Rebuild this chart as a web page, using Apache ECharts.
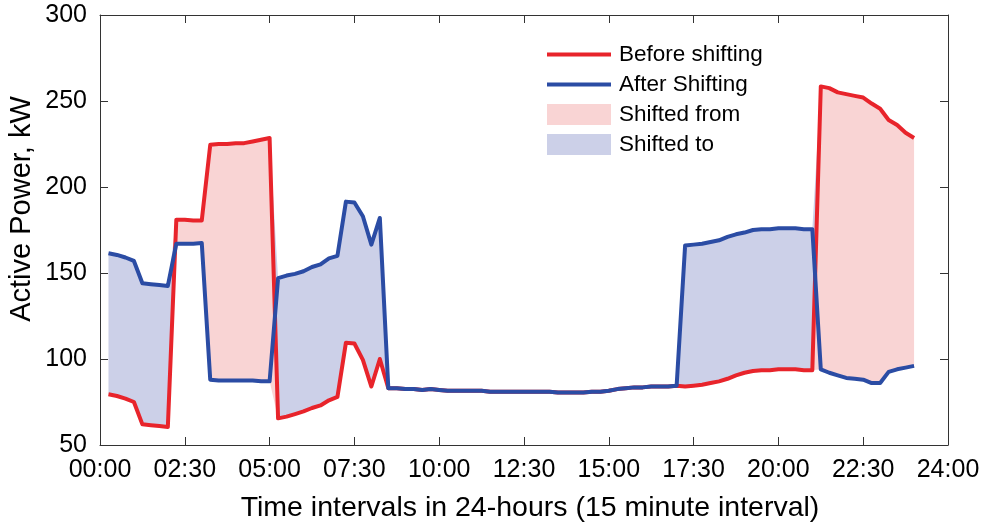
<!DOCTYPE html>
<html>
<head>
<meta charset="utf-8">
<script src="https://cdn.jsdelivr.net/npm/echarts@6/dist/echarts.min.js"></script>
<style>html,body{margin:0;padding:0;background:#fff;}#c{width:984px;height:527px;}</style>
</head>
<body>
<div id="c"></div>
<script>
// x tick labels (axis runs over 15-minute steps 0..100, one label every 10 steps)
var tickLabels = ['00:00','02:30','05:00','07:30','10:00','12:30','15:00','17:30','20:00','22:30','24:00'];
// Active power before load shifting (kW), intervals 1..96
var beforeShift = [
  79.5, 78.5, 77, 75, 62, 61.5, 61, 60.5, 181, 181,
  180.5, 180.5, 224.5, 225, 225, 225.5, 225.5, 226.5, 227.5, 228.5,
  65.5, 66.5, 68, 69.5, 71.5, 73, 76, 78, 109.5, 109,
  99.5, 84, 100, 83, 83, 82.5, 82.5, 82, 82.5, 82,
  81.5, 81.5, 81.5, 81.5, 81.5, 81, 81, 81, 81, 81,
  81, 81, 81, 80.5, 80.5, 80.5, 80.5, 81, 81, 81.5,
  82.5, 83, 83.5, 83.5, 84, 84, 84, 84.5, 84, 84.5,
  85, 86, 87, 88.5, 90.5, 92, 93, 93.5, 93.5, 94,
  94, 94, 93.5, 93.5, 258.5, 257.5, 255, 254, 253, 252,
  248.5, 245.5, 239, 236, 231.5, 228.5
];
// Active power after load shifting (kW), intervals 1..96
var afterShift = [
  161.5, 160.5, 159, 157, 144, 143.5, 143, 142.5, 167, 167,
  167, 167.5, 88, 87.5, 87.5, 87.5, 87.5, 87.5, 87, 87,
  147, 148.5, 149.5, 151, 153.5, 155, 158.5, 160, 191.5, 191,
  183, 166.5, 182, 83, 83, 82.5, 82.5, 82, 82.5, 82,
  81.5, 81.5, 81.5, 81.5, 81.5, 81, 81, 81, 81, 81,
  81, 81, 81, 80.5, 80.5, 80.5, 80.5, 81, 81, 81.5,
  82.5, 83, 83.5, 83.5, 84, 84, 84, 84.5, 166, 166.5,
  167, 168, 169, 171, 172.5, 173.5, 175, 175.5, 175.5, 176,
  176, 176, 175.5, 175.5, 94, 92, 90.5, 89, 88.5, 88,
  86, 86, 92.5, 94, 95, 96
];

var RED = '#E8242B', BLUE = '#2B4CA4', PINK = '#F9D4D4', LAV = '#CCD0E8';
var FONT = '"Liberation Sans", Arial, Helvetica, sans-serif';

// category axis: steps 0..100; data occupy steps 1..96
var steps = [];
for (var k = 0; k <= 100; k++) steps.push(String(k));
function pad(arr){
  var out = ['-'];
  arr.forEach(function(v){ out.push(v); });
  while (out.length < steps.length) out.push('-');
  return out;
}
var baseVals = beforeShift.map(function(v,i){ return Math.min(v, afterShift[i]); });
var fromVals = beforeShift.map(function(v,i){ return Math.max(v - afterShift[i], 0); });
var toVals = beforeShift.map(function(v,i){ return Math.max(afterShift[i] - v, 0); });

var axisLineStyle = {color:'#333', width:1};
var every10 = function(idx){ return idx % 10 === 0; };
var chart = echarts.init(document.getElementById('c'));
chart.setOption({
  animation:false,
  backgroundColor:'#fff',
  grid:{left:100, right:36, top:15, bottom:82, containLabel:false},
  xAxis:[{
    type:'category', data:steps, boundaryGap:false,
    axisLine:{show:true, lineStyle:axisLineStyle},
    axisTick:{show:true, inside:true, length:8, interval:every10, lineStyle:axisLineStyle},
    axisLabel:{show:true, margin:13, fontSize:25, color:'#000', fontFamily:FONT, interval:every10,
      formatter:function(v){ return tickLabels[Math.round(Number(v)/10)]; }},
    splitLine:{show:false}
  },{
    type:'category', data:steps, boundaryGap:false, position:'top',
    axisLine:{show:true, onZero:false, lineStyle:axisLineStyle},
    axisTick:{show:true, inside:true, length:8, interval:every10, lineStyle:axisLineStyle},
    axisLabel:{show:false}, splitLine:{show:false}
  }],
  yAxis:[{
    type:'value', min:50, max:300, interval:50,
    axisLine:{show:true, lineStyle:axisLineStyle},
    axisTick:{show:true, inside:true, length:8, lineStyle:axisLineStyle},
    axisLabel:{show:true, margin:13, fontSize:25, color:'#000', fontFamily:FONT},
    splitLine:{show:false}
  },{
    type:'value', min:50, max:300, interval:50, position:'right',
    axisLine:{show:true, onZero:false, lineStyle:axisLineStyle},
    axisTick:{show:true, inside:true, length:8, lineStyle:axisLineStyle},
    axisLabel:{show:false}, splitLine:{show:false}
  }],
  legend:{
    orient:'vertical', left:547, top:43, padding:0, itemWidth:64, itemHeight:21, itemGap:7,
    textStyle:{fontSize:22.5, color:'#000', fontFamily:FONT, padding:[0,0,0,3]},
    data:[
      {name:'Before shifting', icon:'path://M0,0L64,0L64,4L0,4Z', itemStyle:{color:RED}},
      {name:'After Shifting', icon:'path://M0,0L64,0L64,4L0,4Z', itemStyle:{color:BLUE}},
      {name:'Shifted from', icon:'rect', itemStyle:{color:PINK}},
      {name:'Shifted to', icon:'rect', itemStyle:{color:LAV}}
    ]
  },
  graphic:[
    {type:'text', x:22, y:209, rotation:Math.PI/2,
     style:{text:'Active Power, kW', fontSize:29, fontFamily:FONT, fill:'#000', align:'center', verticalAlign:'middle'}},
    {type:'text', x:530, y:508,
     style:{text:'Time intervals in 24-hours (15 minute interval)', fontSize:28.5, fontFamily:FONT, fill:'#000', align:'center', verticalAlign:'middle'}}
  ],
  series:[
    {name:'base', type:'line', stack:'fill', data:pad(baseVals), symbol:'none',
     lineStyle:{width:0, opacity:0}, z:1, silent:true},
    {name:'Shifted from', type:'line', stack:'fill', data:pad(fromVals), symbol:'none',
     lineStyle:{width:0, opacity:0}, itemStyle:{color:PINK}, areaStyle:{color:PINK, opacity:1}, z:1},
    {name:'Shifted to', type:'line', stack:'fill', data:pad(toVals), symbol:'none',
     lineStyle:{width:0, opacity:0}, itemStyle:{color:LAV}, areaStyle:{color:LAV, opacity:1}, z:1},
    {name:'Before shifting', type:'line', data:pad(beforeShift), symbol:'none',
     lineStyle:{width:4, color:RED, join:'round'}, itemStyle:{color:RED}, z:3},
    {name:'After Shifting', type:'line', data:pad(afterShift), symbol:'none',
     lineStyle:{width:4, color:BLUE, join:'round'}, itemStyle:{color:BLUE}, z:4}
  ]
});
</script>
</body>
</html>
